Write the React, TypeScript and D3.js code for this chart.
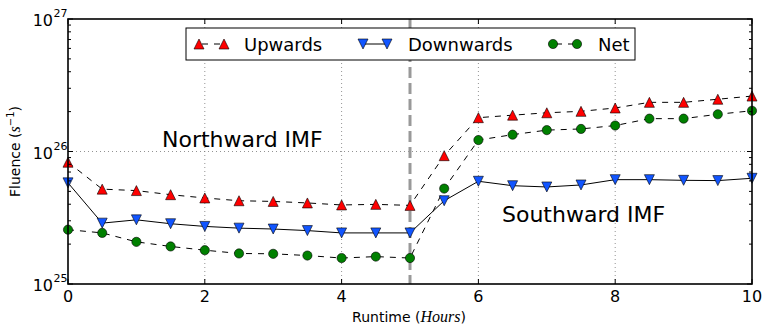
import React from "react";
import * as d3 from "d3";

const hours = [0, 0.5, 1, 1.5, 2, 2.5, 3, 3.5, 4, 4.5, 5, 5.5, 6, 6.5, 7, 7.5, 8, 8.5, 9, 9.5, 10];
const upwards = [8.3e25, 5.2e25, 5.07e25, 4.72e25, 4.46e25, 4.25e25, 4.2e25, 4.09e25, 3.95e25, 3.99e25, 3.92e25, 9.3e25, 1.8e26, 1.88e26, 1.96e26, 2.01e26, 2.13e26, 2.35e26, 2.35e26, 2.48e26, 2.62e26];
const downwards = [5.8e25, 2.88e25, 3.05e25, 2.85e25, 2.72e25, 2.64e25, 2.6e25, 2.53e25, 2.43e25, 2.43e25, 2.43e25, 4.25e25, 5.96e25, 5.52e25, 5.4e25, 5.59e25, 6.13e25, 6.13e25, 6.06e25, 6.03e25, 6.28e25];
const net = [2.57e25, 2.43e25, 2.08e25, 1.92e25, 1.8e25, 1.7e25, 1.69e25, 1.64e25, 1.57e25, 1.61e25, 1.57e25, 5.25e25, 1.22e26, 1.34e26, 1.45e26, 1.48e26, 1.57e26, 1.77e26, 1.77e26, 1.91e26, 2.03e26];
const xTicks = [0, 2, 4, 6, 8, 10];
const yTickExps = [25, 26, 27];
const legendLabels = ["Upwards", "Downwards", "Net"];
const switchHour = 5;

const W = 764, H = 326;
const L = 68, R = 752, T = 19, B = 284;
const FONT = "'DejaVu Sans', sans-serif";
const MATH = "'Liberation Serif', serif";

const RED = "#ff0000", BLUE = "#1155ff", GREEN = "#008000";

function TriUp({ x, y, s = 10, fill }: { x: number; y: number; s?: number; fill: string }) {
  const h = s / 2;
  return <path d={`M${x},${y - h}L${x - h},${y + h}L${x + h},${y + h}Z`} fill={fill} stroke="#000" strokeWidth={0.6} />;
}
function TriDown({ x, y, s = 10, fill }: { x: number; y: number; s?: number; fill: string }) {
  const h = s / 2;
  return <path d={`M${x},${y + h}L${x - h},${y - h}L${x + h},${y - h}Z`} fill={fill} stroke="#000" strokeWidth={0.6} />;
}
function Dot({ x, y, fill }: { x: number; y: number; fill: string }) {
  return <circle cx={x} cy={y} r={4.6} fill={fill} stroke="#000" strokeWidth={0.6} />;
}

export default function App() {
  const x = d3.scaleLinear().domain([0, 10]).range([L, R]);
  const y = d3.scaleLog().domain([1e25, 1e27]).range([B, T]);
  const line = d3.line<[number, number]>().x((d) => x(d[0])).y((d) => y(d[1]));
  const pts = (vals: number[]) => hours.map((h, i) => [h, vals[i]] as [number, number]);

  const minor: number[] = [];
  for (const e of [25, 26]) for (let k = 2; k <= 9; k++) minor.push(k * Math.pow(10, e));

  const legY = 44;
  return (
    <svg width={W} height={H} style={{ position: "absolute", left: 0, top: 0, background: "#fff" }} fontFamily={FONT}>
      <rect x={0} y={0} width={W} height={H} fill="#fff" />
      {/* grid */}
      {xTicks.filter((t) => t > 0 && t < 10).map((t) => (
        <line key={"gx" + t} x1={x(t)} x2={x(t)} y1={T} y2={B} stroke="#777" strokeWidth={0.8} strokeDasharray="1,3" />
      ))}
      <line x1={L} x2={R} y1={y(1e26)} y2={y(1e26)} stroke="#777" strokeWidth={0.8} strokeDasharray="1,3" />
      {/* switch line */}
      <line x1={x(switchHour)} x2={x(switchHour)} y1={T} y2={B} stroke="#999" strokeWidth={3} strokeDasharray="11,5" />
      {/* lines */}
      <path d={line(pts(upwards)) || ""} fill="none" stroke="#000" strokeWidth={1} strokeDasharray="6,6" />
      <path d={line(pts(downwards)) || ""} fill="none" stroke="#000" strokeWidth={1} />
      <path d={line(pts(net)) || ""} fill="none" stroke="#000" strokeWidth={1} strokeDasharray="6,6" />
      {hours.map((h, i) => <TriUp key={"u" + i} x={x(h)} y={y(upwards[i])} fill={RED} />)}
      {hours.map((h, i) => <TriDown key={"d" + i} x={x(h)} y={y(downwards[i])} fill={BLUE} />)}
      {hours.map((h, i) => <Dot key={"n" + i} x={x(h)} y={y(net[i])} fill={GREEN} />)}
      {/* annotations */}
      <text x={162} y={146.5} fontSize={22} fill="#000">Northward IMF</text>
      <text x={502} y={221.5} fontSize={22} fill="#000">Southward IMF</text>
      {/* legend */}
      <rect x={186} y={28} width={449} height={32} fill="#fff" stroke="#000" strokeWidth={1} />
      <line x1={199} x2={224} y1={legY} y2={legY} stroke="#000" strokeWidth={1} strokeDasharray="6,6" strokeDashoffset={-3} />
      <TriUp x={199} y={legY} fill={RED} />
      <TriUp x={224} y={legY} fill={RED} />
      <text x={244} y={50.5} fontSize={18}>{legendLabels[0]}</text>
      <line x1={363} x2={387} y1={legY} y2={legY} stroke="#000" strokeWidth={1} />
      <TriDown x={363} y={legY} fill={BLUE} />
      <TriDown x={387} y={legY} fill={BLUE} />
      <text x={408} y={50.5} fontSize={18}>{legendLabels[1]}</text>
      <line x1={553} x2={577} y1={legY} y2={legY} stroke="#000" strokeWidth={1} strokeDasharray="6,6" strokeDashoffset={-3} />
      <Dot x={553} y={legY} fill={GREEN} />
      <Dot x={577} y={legY} fill={GREEN} />
      <text x={598} y={50.5} fontSize={18}>{legendLabels[2]}</text>
      {/* frame */}
      <rect x={L} y={T} width={R - L} height={B - T} fill="none" stroke="#000" strokeWidth={1.6} />
      {/* ticks */}
      {xTicks.map((t) => (
        <g key={"xt" + t}>
          <line x1={x(t)} x2={x(t)} y1={B} y2={B - 5} stroke="#000" strokeWidth={1} />
          <line x1={x(t)} x2={x(t)} y1={T} y2={T + 5} stroke="#000" strokeWidth={1} />
          <text x={x(t)} y={302} fontSize={16} textAnchor="middle">{t}</text>
        </g>
      ))}
      {yTickExps.map((e) => (
        <g key={"yt" + e}>
          <line x1={L} x2={L + 5} y1={y(Math.pow(10, e))} y2={y(Math.pow(10, e))} stroke="#000" strokeWidth={1} />
          <line x1={R} x2={R - 5} y1={y(Math.pow(10, e))} y2={y(Math.pow(10, e))} stroke="#000" strokeWidth={1} />
          <text x={53} y={y(Math.pow(10, e)) + 7} fontSize={16} textAnchor="end">10</text>
          <text x={53.5} y={y(Math.pow(10, e)) - 2} fontSize={11}>{e}</text>
        </g>
      ))}
      {minor.map((v, i) => (
        <g key={"mt" + i}>
          <line x1={L} x2={L + 3} y1={y(v)} y2={y(v)} stroke="#000" strokeWidth={1} />
          <line x1={R} x2={R - 3} y1={y(v)} y2={y(v)} stroke="#000" strokeWidth={1} />
        </g>
      ))}
      {/* axis labels */}
      <text x={409} y={322} fontSize={14} textAnchor="middle">
        Runtime (<tspan fontFamily={MATH} fontStyle="italic" fontSize={16}>Hours</tspan>)
      </text>
      <text transform={`translate(20,${(T + B) / 2}) rotate(-90)`} fontSize={14} textAnchor="middle">
        Fluence (<tspan fontFamily={MATH} fontStyle="italic" fontSize={16}>s</tspan>
        <tspan fontSize={10} dy={-6}>−1</tspan>
        <tspan dy={6}>)</tspan>
      </text>
    </svg>
  );
}
